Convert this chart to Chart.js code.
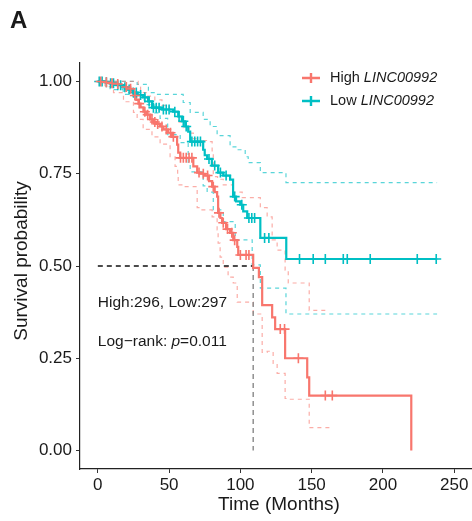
<!DOCTYPE html>
<html lang="en">
  <head>
    <meta charset="UTF-8" />
    <title>KM LINC00992</title>
    <script src="https://cdn.jsdelivr.net/npm/chart.js@4.4.0/dist/chart.umd.min.js"></script>
    <style>
      body { margin: 0; background: #fff; }
      canvas { display: block; }
    </style>
  </head>
  <body>
    <canvas id="km" width="472" height="521"></canvas>

    <script>
      // Kaplan-Meier estimates (months, survival probability)
      const highTime = [0, 4, 8, 12, 16, 18, 21, 24, 25, 27, 28.5, 30, 32, 34, 36.7, 39, 41, 43.7, 46, 49.3, 52, 55.6, 56.4, 57.8, 67, 69.7, 72, 75.3, 78, 80.2, 82, 83.7, 84.4, 86, 87.2, 90, 92.8, 95, 97.8, 98.5, 109, 113, 115.3, 122.3, 124.4, 131.4, 146.9, 148.3, 219.9];
      const highSurv = [1, 0.998, 0.995, 0.993, 0.99, 0.985, 0.98, 0.975, 0.962, 0.95, 0.94, 0.93, 0.918, 0.91, 0.897, 0.89, 0.885, 0.878, 0.87, 0.861, 0.85, 0.829, 0.807, 0.793, 0.77, 0.753, 0.75, 0.745, 0.73, 0.715, 0.7, 0.688, 0.644, 0.63, 0.617, 0.6, 0.59, 0.57, 0.552, 0.53, 0.495, 0.47, 0.394, 0.361, 0.329, 0.25, 0.198, 0.149, 0];
      const lowTime = [0, 5, 8.6, 13, 17.8, 21, 24.8, 28, 31.8, 35.3, 38.1, 45, 52.8, 56.4, 59, 61.3, 63.4, 64.8, 73.9, 75, 76.7, 80, 84.4, 88, 92.8, 94.9, 97, 99.9, 102, 104.8, 114, 132.2, 238.1];
      const lowSurv = [1, 0.998, 0.995, 0.99, 0.984, 0.978, 0.97, 0.963, 0.957, 0.946, 0.929, 0.924, 0.918, 0.905, 0.892, 0.878, 0.864, 0.837, 0.815, 0.8, 0.79, 0.772, 0.753, 0.745, 0.734, 0.688, 0.675, 0.666, 0.648, 0.63, 0.576, 0.519, 0.519];

      // 95% confidence bands
      const highUpperTime = [0, 25, 28.3, 30, 35, 40, 45, 50, 54, 57, 60, 64, 67, 70, 74, 79, 80.2, 81, 84, 88, 95, 101.3, 114, 118.8, 122.3, 125.8, 131.4, 133.6, 148.3, 161.7];
      const highUpperSurv = [1, 1, 0.985, 0.97, 0.96, 0.95, 0.935, 0.92, 0.905, 0.89, 0.875, 0.86, 0.845, 0.835, 0.84, 0.837, 0.807, 0.742, 0.735, 0.72, 0.7, 0.685, 0.658, 0.633, 0.571, 0.543, 0.489, 0.454, 0.38, 0.38];
      const highLowerTime = [0, 5, 11, 18, 25, 27.6, 31.8, 38, 43.7, 50.7, 54.2, 56, 56.4, 59.9, 69.7, 71.8, 80.2, 83.7, 84.4, 85.8, 88, 91.4, 95, 97.8, 109, 115.3, 118.8, 123, 125.8, 131.4, 133, 148.3, 164.5];
      const highLowerSurv = [1, 0.986, 0.97, 0.945, 0.916, 0.897, 0.87, 0.85, 0.83, 0.796, 0.77, 0.75, 0.72, 0.715, 0.658, 0.652, 0.633, 0.598, 0.562, 0.524, 0.497, 0.47, 0.454, 0.402, 0.37, 0.266, 0.269, 0.236, 0.209, 0.141, 0.139, 0.062, 0.062];
      const lowUpperTime = [0, 27.6, 35.5, 40, 52.1, 59.9, 64.8, 73.9, 78.8, 83.7, 92.8, 97.8, 103.4, 105.5, 114, 132, 238];
      const lowUpperSurv = [1, 0.992, 0.97, 0.965, 0.965, 0.943, 0.916, 0.897, 0.878, 0.853, 0.823, 0.815, 0.796, 0.78, 0.753, 0.726, 0.726];
      const lowLowerTime = [0, 8.6, 17.8, 25, 33, 40, 43.7, 49, 57.8, 63.4, 64.8, 73.9, 76.7, 81, 88, 96.4, 108.3, 114, 132, 238];
      const lowLowerSurv = [1, 0.978, 0.965, 0.95, 0.937, 0.915, 0.9, 0.856, 0.834, 0.774, 0.755, 0.717, 0.7, 0.652, 0.62, 0.571, 0.503, 0.44, 0.37, 0.37];

      // censoring times
      const highCensor = [2, 6, 10, 14, 20, 23, 26, 29, 33, 35, 38, 40, 42, 45, 48, 51, 53, 58, 60, 62, 64, 66, 71, 74, 77, 81, 85, 88, 91, 94, 96, 100, 104, 106, 128, 131, 140.7, 159.6, 164.5];
      const lowCensor = [1, 3, 6, 9, 11, 14, 16, 19, 22, 25, 27, 30, 33, 36, 39, 41, 43, 46, 48, 50, 54, 57, 60, 62, 66, 68, 70, 72, 78, 82, 86, 90, 96, 101, 106, 108, 110, 117, 120, 141.5, 151.1, 159.6, 172.2, 175, 191.1, 224.1, 237.4];

      const medianHigh = 109;
      const xTicks = [0, 50, 100, 150, 200, 250];
      const yTicks = [0, 0.25, 0.5, 0.75, 1];

      const RED = "#F8766D";
      const TEAL = "#00BFC4";
      const FONT = "'Liberation Sans', Arial, sans-serif";

      function pts(times, surv) {
        return times.map((t, i) => ({ x: t, y: surv[i] }));
      }

      // survival value of a step curve at time t
      function survAt(times, surv, t) {
        let v = surv[0];
        for (let i = 0; i < times.length; i++) {
          if (times[i] <= t) v = surv[i];
        }
        return v;
      }

      function curve(data, color, order) {
        return { data, borderColor: color, borderWidth: 2.2, showLine: true, stepped: true, pointRadius: 0, order };
      }

      function band(data, color) {
        return { data, borderColor: color, borderWidth: 1.2, borderDash: [4, 4], showLine: true, stepped: true, pointRadius: 0, order: 5 };
      }

      function censor(times, curveT, curveS, color) {
        return {
          data: times.map((t) => ({ x: t, y: survAt(curveT, curveS, t) })),
          borderColor: color,
          backgroundColor: color,
          pointStyle: "cross",
          pointRadius: 5,
          pointBorderWidth: 1.6,
          showLine: false,
          order: 1,
        };
      }

      const datasets = [
        band(pts(highUpperTime, highUpperSurv), "rgba(248,118,109,0.6)"),
        band(pts(highLowerTime, highLowerSurv), "rgba(248,118,109,0.6)"),
        band(pts(lowUpperTime, lowUpperSurv), "rgba(0,191,196,0.65)"),
        band(pts(lowLowerTime, lowLowerSurv), "rgba(0,191,196,0.65)"),
        { data: [{ x: 0, y: 0.5 }, { x: medianHigh, y: 0.5 }], borderColor: "#111", borderWidth: 1.4, borderDash: [5, 4], showLine: true, pointRadius: 0, order: 4 },
        { data: [{ x: medianHigh, y: 0.5 }, { x: medianHigh, y: 0 }], borderColor: "#888", borderWidth: 1.4, borderDash: [5, 4], showLine: true, pointRadius: 0, order: 4 },
        curve(pts(highTime, highSurv), RED, 3),
        curve(pts(lowTime, lowSurv), TEAL, 2),
        censor(highCensor, highTime, highSurv, RED),
        censor(lowCensor, lowTime, lowSurv, TEAL),
      ];

      // text labels, legend and axis titles
      const labels = {
        id: "labels",
        afterDraw(chart) {
          const c = chart.ctx;
          const xs = chart.scales.x;
          const ys = chart.scales.y;
          c.save();
          c.fillStyle = "#1a1a1a";

          c.font = "bold 24px " + FONT;
          c.textAlign = "left";
          c.textBaseline = "alphabetic";
          c.fillText("A", 10, 28);

          c.font = "19px " + FONT;
          c.textAlign = "center";
          c.textBaseline = "middle";
          c.fillText("Time (Months)", 279, 505);

          c.save();
          c.translate(27, 261);
          c.rotate(-Math.PI / 2);
          c.textBaseline = "alphabetic";
          c.fillText("Survival probability", 0, 0);
          c.restore();

          const x0 = xs.getPixelForValue(0);
          c.textAlign = "left";
          c.font = "15.5px " + FONT;
          c.fillText("High:296, Low:297", x0, ys.getPixelForValue(0.4));
          const y2 = ys.getPixelForValue(0.294);
          let x = x0;
          c.fillText("Log\u2212rank: ", x, y2);
          x += c.measureText("Log\u2212rank: ").width;
          c.font = "italic 15.5px " + FONT;
          c.fillText("p", x, y2);
          x += c.measureText("p").width;
          c.font = "15.5px " + FONT;
          c.fillText("=0.011", x, y2);

          // legend
          const rows = [["High ", RED, 78], ["Low ", TEAL, 101]];
          rows.forEach(([name, color, y]) => {
            c.strokeStyle = color;
            c.lineWidth = 2.4;
            c.beginPath();
            c.moveTo(302, y);
            c.lineTo(320, y);
            c.moveTo(311, y - 5);
            c.lineTo(311, y + 5);
            c.stroke();
            c.fillStyle = "#1a1a1a";
            c.font = "14.5px " + FONT;
            c.fillText(name, 330, y);
            const w = c.measureText(name).width;
            c.font = "italic 14.5px " + FONT;
            c.fillText("LINC00992", 330 + w, y);
          });
          c.restore();
        },
      };

      function axisStyle() {
        return {
          grid: { display: true, drawOnChartArea: false, drawTicks: true, tickLength: 4, color: "#333", lineWidth: 1 },
          border: { display: true, color: "#222", width: 1.2 },
        };
      }

      const ctx = document.getElementById("km").getContext("2d");
      new Chart(ctx, {
        type: "scatter",
        data: { datasets },
        options: {
          responsive: false,
          animation: false,
          devicePixelRatio: 1,
          layout: { autoPadding: false, padding: { top: 63, right: 0, bottom: 0, left: 0 } },
          plugins: { legend: { display: false }, tooltip: { enabled: false } },
          scales: {
            x: {
              type: "linear",
              min: -12.5,
              max: 262.5,
              ...axisStyle(),
              afterBuildTicks: (s) => { s.ticks = xTicks.map((v) => ({ value: v })); },
              afterFit: (s) => { s.height = 52; s.paddingLeft = 0; s.paddingRight = 0; },
              ticks: { padding: 2, color: "#1a1a1a", font: { family: FONT, size: 17 } },
            },
            y: {
              type: "linear",
              min: -0.05,
              max: 1.05,
              ...axisStyle(),
              afterBuildTicks: (s) => { s.ticks = yTicks.map((v) => ({ value: v })); },
              afterFit: (s) => { s.width = 80; s.paddingTop = 0; s.paddingBottom = 0; },
              ticks: { padding: 4, color: "#1a1a1a", font: { family: FONT, size: 17 }, callback: (v) => v.toFixed(2) },
            },
          },
        },
        plugins: [labels],
      });
    </script>
  </body>
</html>
